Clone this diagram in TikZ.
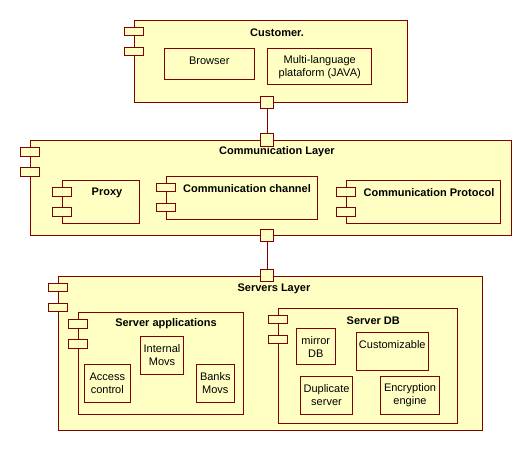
\documentclass[tikz,border=0pt]{standalone}
\usepackage{fontspec}
\setmainfont{Liberation Sans}
\definecolor{umlred}{RGB}{128,0,0}
\definecolor{umlfill}{RGB}{255,255,196}
\begin{document}
\begin{tikzpicture}[x=1pt,y=-1pt,
  box/.style={draw=umlred, fill=umlfill, line width=1pt, inner sep=0pt, rectangle},
  tabbox/.style={box, minimum width=19pt, minimum height=8.5pt},
  portbox/.style={box, minimum width=12.5pt, minimum height=12.5pt},
  ttl/.style={font=\bfseries\fontsize{11}{13}\selectfont, inner sep=0pt, yshift=-1pt},
  txt/.style={font=\fontsize{11}{13}\selectfont, align=center, inner sep=0pt, yshift=-1pt},
  conn/.style={draw=umlred, line width=1pt}]
\useasboundingbox[fill=white] (0,0) rectangle (532,451);
% helper: box from corners
\def\mkbox#1#2#3#4#5{\node[box,minimum width={(#4-#2)*1pt},minimum height={(#5-#3)*1pt}] (#1) at ({(#2+#4)/2},{(#3+#5)/2}) {};}
\def\mktabs#1{%
  \node[tabbox] (#1-t1) at ([yshift=-12pt]#1.north west) {};
  \node[tabbox] (#1-t2) at ([yshift=-32pt]#1.north west) {};}
% ---------- Customer ----------
\mkbox{cust}{134}{20}{407}{102}
\mktabs{cust}
\node[ttl] (custT) at (277,32) {Customer.};
\mkbox{browser}{164.3}{48.3}{254.3}{79.3}
\node[txt] (browserT) at (209.3,60) {Browser};
\mkbox{multi}{267.7}{48.3}{371.7}{84}
\node[txt] (multiT) at (319.7,66.5) {Multi-language\\plataform (JAVA)};
\node[portbox] (custP) at (cust.south -| 267,0) {};
% ---------- Communication Layer ----------
\mkbox{comm}{30.7}{140.7}{511.7}{235}
\mktabs{comm}
\node[ttl] (commT) at (277,151) {Communication Layer};
\mkbox{proxy}{62.3}{180.3}{139.3}{223.3}
\mktabs{proxy}
\node[ttl] (proxyT) at (107,191.7) {Proxy};
\mkbox{chan}{166}{176.3}{317.3}{219.3}
\node[tabbox] (chan-t1) at ([yshift=-11.7pt]chan.north west) {};
\node[tabbox] (chan-t2) at ([yshift=-31.7pt]chan.north west) {};
\node[ttl] (chanT) at (247,187.3) {Communication channel};
\mkbox{proto}{346.3}{180.3}{500.7}{223.3}
\mktabs{proto}
\node[ttl] (protoT) at (429,191.7) {Communication Protocol};
\node[portbox] (commPin) at (comm.north -| 267,0) {};
\node[portbox] (commPout) at (comm.south -| 267,0) {};
% ---------- Servers Layer ----------
\mkbox{serv}{58.3}{276}{482.7}{430}
\mktabs{serv}
\node[ttl] (servT) at (274,287.3) {Servers Layer};
\node[portbox] (servP) at (serv.north -| 267,0) {};
% Server applications
\mkbox{apps}{78.3}{312.3}{243.3}{414.3}
\mktabs{apps}
\node[ttl] (appsT) at (166,322.7) {Server applications};
\mkbox{internal}{140.3}{336}{183.7}{374.3}
\node[txt] (internalT) at (162,354.2) {Internal\\Movs};
\mkbox{access}{84.3}{364.3}{130.3}{402.3}
\node[txt] (accessT) at (107.3,382.2) {Access\\control};
\mkbox{banks}{196.3}{364.3}{234.3}{402.3}
\node[txt] (banksT) at (215.3,382.2) {Banks\\Movs};
% Server DB
\mkbox{db}{278.3}{308.3}{457.3}{423.3}
\node[tabbox] (db-t1) at ([yshift=-11.7pt]db.north west) {};
\node[tabbox] (db-t2) at ([yshift=-31.7pt]db.north west) {};
\node[ttl] (dbT) at (373.3,319.3) {Server DB};
\mkbox{mirror}{296}{328.3}{335.7}{364.3}
\node[txt] (mirrorT) at (315.8,346) {mirror\\DB};
\mkbox{custom}{356.3}{332.3}{428.3}{370.3}
\node[txt] (customT) at (392.3,343.3) {Customizable};
\mkbox{dup}{300.3}{376.7}{352.7}{414.3}
\node[txt] (dupT) at (326.5,394.3) {Duplicate\\server};
\mkbox{enc}{380.3}{376.7}{439.7}{414.3}
\node[txt] (encT) at (410,394.3) {Encryption\\engine};
% ---------- connectors ----------
\draw[conn] (custP.south) -- (commPin.north);
\draw[conn] (commPout.south) -- (servP.north);
\end{tikzpicture}
\end{document}
